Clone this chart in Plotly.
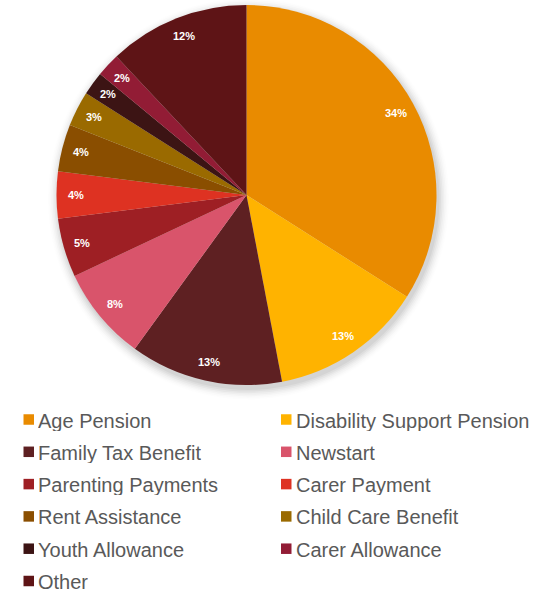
import math
import plotly.graph_objects as go

# Welfare spending breakdown (% of total)
categories = [
    "Age Pension", "Disability Support Pension", "Family Tax Benefit", "Newstart",
    "Parenting Payments", "Carer Payment", "Rent Assistance", "Child Care Benefit",
    "Youth Allowance", "Carer Allowance", "Other",
]
shares = [34, 13, 13, 8, 5, 4, 4, 3, 2, 2, 12]
colors = [
    "#E98B00", "#FFB300", "#5E2022", "#D9546B", "#9E1F24", "#DE3222",
    "#8A4E00", "#9A6A00", "#3C1414", "#921C35", "#5E1416",
]

W, H = 549, 591
CX, CY, R = 246.5, 195.0, 190.0   # pie centre and radius in pixels
LABEL_R = R - 19                   # radius of the percentage labels
FONT = "Liberation Sans, Arial, sans-serif"

# Two-column legend layout (pixels)
LEG_COL_X = [23.5, 281.0]         # left edge of each column's swatch
LEG_ROW0, LEG_PITCH = 419.5, 32.3  # centre of first row, row spacing
SWATCH = 10.5
TEXT_GAP = 3.0


def px_x(x):
    return x / W


def px_y(y):
    return 1 - y / H


fig = go.Figure()

fig.add_trace(go.Pie(
    labels=categories,
    values=shares,
    sort=False,
    direction="clockwise",
    rotation=0,
    marker=dict(colors=colors, line=dict(width=0)),
    textinfo="none",
    hoverinfo="label+percent",
    showlegend=False,
    domain=dict(x=[px_x(CX - R), px_x(CX + R)], y=[px_y(CY + R), px_y(CY - R)]),
))

shapes = []
annotations = []

# Soft drop shadow behind the pie
for i, alpha in enumerate([0.04, 0.035, 0.03, 0.024, 0.018, 0.012, 0.008]):
    rr = R + 1 + i * 1.6
    ox, oy = 2, 4
    shapes.append(dict(
        type="circle", xref="paper", yref="paper", layer="below",
        x0=px_x(CX + ox - rr), x1=px_x(CX + ox + rr),
        y0=px_y(CY + oy + rr), y1=px_y(CY + oy - rr),
        fillcolor=f"rgba(0,0,0,{alpha})", line=dict(width=0),
    ))

# Percentage labels placed at a fixed radius along each slice's mid-angle
total = sum(shares)
cum = 0
for v in shares:
    mid = (cum + v / 2) / total * 2 * math.pi
    cum += v
    lx = CX + LABEL_R * math.sin(mid)
    ly = CY - LABEL_R * math.cos(mid)
    annotations.append(dict(
        x=px_x(lx), y=px_y(ly), xref="paper", yref="paper",
        text=f"<b>{round(v / total * 100)}%</b>", showarrow=False,
        font=dict(family=FONT, size=11, color="white"),
        xanchor="center", yanchor="middle",
    ))

# Legend: square swatch plus label, filled row by row in two columns
for i, (name, col) in enumerate(zip(categories, colors)):
    row, c = divmod(i, 2)
    x0 = LEG_COL_X[c]
    yc = LEG_ROW0 + row * LEG_PITCH
    shapes.append(dict(
        type="rect", xref="paper", yref="paper",
        x0=px_x(x0), x1=px_x(x0 + SWATCH),
        y0=px_y(yc + SWATCH / 2), y1=px_y(yc - SWATCH / 2),
        fillcolor=col, line=dict(width=0),
    ))
    annotations.append(dict(
        x=px_x(x0 + SWATCH + TEXT_GAP), y=px_y(yc + 1), xref="paper", yref="paper",
        text=name, showarrow=False, xanchor="left", yanchor="middle",
        height=20, valign="middle", borderpad=0,
        font=dict(family=FONT, size=20, color="#595959"),
    ))

fig.update_layout(
    width=W, height=H, autosize=False,
    margin=dict(l=0, r=0, t=0, b=0, autoexpand=False),
    paper_bgcolor="white", plot_bgcolor="white",
    shapes=shapes, annotations=annotations,
    showlegend=False,
)

fig.write_html("out.html")
